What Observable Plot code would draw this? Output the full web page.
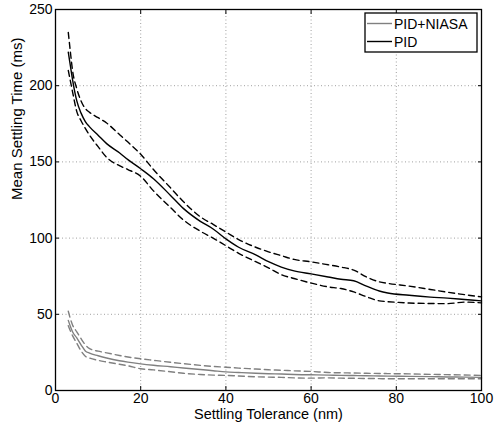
<!DOCTYPE html>
<html><head><meta charset="utf-8">
<script src="https://cdn.jsdelivr.net/npm/d3@7"></script>
<script src="https://cdn.jsdelivr.net/npm/@observablehq/plot@0.6"></script>
<style>
body{margin:0;background:#fff}
#chart svg{display:block}
</style>
</head><body><div id="chart"></div>
<script>
// Settling tolerance (nm)
const tolerance = [3, 3.5, 4, 5, 6, 7, 8, 10, 12, 15, 17, 20, 23, 27, 30, 34, 37, 40, 43, 47, 50, 53, 56, 60, 64, 67, 70, 73, 76, 78, 83, 88, 92, 96, 100];
// PID: mean settling time and dashed bounds (ms)
const pidMean  = [222, 213, 204, 190, 182, 176.5, 173, 167.5, 162, 156, 151.5, 145.5, 139, 128, 119.5, 111, 106, 99.5, 94, 89, 84.5, 81, 78.5, 76.5, 74.5, 73, 72, 68.5, 65.3, 64, 62.5, 61.3, 60.6, 59.7, 58.8];
const pidUpper = [235, 222, 210, 198, 190, 185, 182.5, 179, 175.5, 168, 163, 155, 145, 133, 124, 114, 109, 104, 99, 94, 91, 88.5, 86, 84.4, 82.5, 81, 79, 74.5, 71.3, 70.3, 68.5, 66.3, 64.5, 62.9, 61.4];
const pidLower = [210, 203, 196, 183, 177, 172, 167.5, 160, 153, 147.5, 145, 140.5, 131, 120, 112, 104.5, 100, 95, 90, 84.5, 80.5, 76, 73.5, 70.5, 68, 66.9, 64.7, 61.5, 58.8, 58.3, 57.4, 57.1, 57, 58, 57.5];
// PID+NIASA: mean settling time and dashed bounds (ms)
const niasaMean  = [46, 42, 38.5, 34.5, 30, 26, 24.5, 22.8, 21.3, 19.5, 18.6, 17.5, 16.6, 15.6, 14.8, 13.8, 13, 12.2, 11.8, 11.3, 11, 10.8, 10.5, 10.3, 10.1, 9.9, 9.8, 9.7, 9.5, 9.4, 9.3, 9.1, 8.9, 8.8, 8.6];
const niasaUpper = [52, 47, 43, 38.5, 34, 30, 27.5, 25.8, 24.7, 23, 22, 20.8, 19.8, 18.5, 17.6, 16.5, 15.8, 15.3, 14.7, 14.1, 13.6, 13.3, 12.9, 12.5, 11.8, 11.6, 11.5, 11.3, 11.2, 11.1, 10.9, 10.6, 10.4, 10.2, 9.9];
const niasaLower = [42.5, 39, 36, 31, 26, 22.5, 21.3, 19.8, 18.7, 17.2, 16.2, 14.3, 13.5, 12.3, 11.3, 10.5, 10.1, 9.9, 9.5, 9, 8.8, 8.6, 8.3, 8.1, 8.3, 8.1, 8, 7.9, 7.8, 7.7, 7.7, 7.7, 7.7, 7.7, 7.7];

const xTicks = [0, 20, 40, 60, 80, 100];
const yTicks = [0, 50, 100, 150, 200, 250];
const seriesNames = ["PID+NIASA", "PID"];
const xLabel = "Settling Tolerance (nm)";
const yLabel = "Mean Settling Time (ms)";

const rows = (ys) => tolerance.map((x, i) => ({x, y: ys[i]}));
const GRAY = "#808080";
const FONT = "'Liberation Sans', Arial, Helvetica, sans-serif";
const dash = "6,4";
const LW = 1.4;

const plot = Plot.plot({
  width: 494,
  height: 430,
  marginLeft: 55,
  marginRight: 13,
  marginTop: 9,
  marginBottom: 40,
  style: {fontFamily: FONT, fontSize: "14px", background: "white", color: "black"},
  x: {domain: [0, 100]},
  y: {domain: [0, 250]},
  marks: [
    Plot.gridX(xTicks.slice(1, -1), {stroke: "#a0a0a0", strokeOpacity: 1, strokeDasharray: "1,2.5"}),
    Plot.gridY(yTicks.slice(1, -1), {stroke: "#a0a0a0", strokeOpacity: 1, strokeDasharray: "1,2.5"}),
    // tick labels
    Plot.axisX(xTicks, {anchor: "bottom", tickSize: 0, tickPadding: 3, label: null, fontSize: 14}),
    Plot.axisY(yTicks, {anchor: "left", tickSize: 0, tickPadding: 3, label: null, fontSize: 14}),
    // inward ticks on all four sides
    Plot.axisX(xTicks, {anchor: "bottom", tickSize: 4, dy: -4, tickFormat: () => "", label: null}),
    Plot.axisX(xTicks, {anchor: "top", tickSize: 4, dy: 4, tickFormat: () => "", label: null}),
    Plot.axisY(yTicks, {anchor: "left", tickSize: 4, dx: 4, tickFormat: () => "", label: null}),
    Plot.axisY(yTicks, {anchor: "right", tickSize: 4, dx: -4, tickFormat: () => "", label: null}),
    // PID+NIASA (gray)
    Plot.lineY(rows(niasaUpper), {x: "x", y: "y", stroke: GRAY, strokeWidth: LW, strokeDasharray: dash, curve: "monotone-x"}),
    Plot.lineY(rows(niasaLower), {x: "x", y: "y", stroke: GRAY, strokeWidth: LW, strokeDasharray: dash, curve: "monotone-x"}),
    Plot.lineY(rows(niasaMean), {x: "x", y: "y", stroke: GRAY, strokeWidth: LW, curve: "monotone-x"}),
    // PID (black)
    Plot.lineY(rows(pidUpper), {x: "x", y: "y", stroke: "black", strokeWidth: LW, strokeDasharray: dash, curve: "monotone-x"}),
    Plot.lineY(rows(pidLower), {x: "x", y: "y", stroke: "black", strokeWidth: LW, strokeDasharray: dash, curve: "monotone-x"}),
    Plot.lineY(rows(pidMean), {x: "x", y: "y", stroke: "black", strokeWidth: LW, curve: "monotone-x"}),
    Plot.frame({stroke: "black", strokeWidth: 1.3}),
    // axis titles
    Plot.text([xLabel], {frameAnchor: "bottom", dy: 28.5, text: d => d, fontSize: 14.5, fill: "black"}),
    Plot.text([yLabel], {frameAnchor: "left", dx: -38.5, rotate: -90, text: d => d, fontSize: 15, fill: "black"})
  ]
});

document.getElementById("chart").appendChild(plot);

// Legend box inside the top-right corner of the axes
const svgSel = d3.select(plot);
const frameRight = 494 - 13, frameTop = 9;
const lg = svgSel.append("g")
  .attr("font-family", FONT).attr("font-size", 14).attr("text-anchor", "start");
lg.append("rect")
  .attr("x", frameRight - 116).attr("y", frameTop + 4)
  .attr("width", 112).attr("height", 39)
  .attr("fill", "white").attr("stroke", "black").attr("stroke-width", 1.3);
const legendColors = [GRAY, "black"];
seriesNames.forEach((name, i) => {
  const cy = frameTop + 14.5 + i * 18;
  lg.append("line")
    .attr("x1", frameRight - 114).attr("x2", frameRight - 89)
    .attr("y1", cy).attr("y2", cy)
    .attr("stroke", legendColors[i]).attr("stroke-width", LW);
  lg.append("text")
    .attr("x", frameRight - 87).attr("y", cy + 5)
    .attr("text-anchor", "start")
    .attr("fill", "black")
    .text(name);
});
</script>
</body></html>
